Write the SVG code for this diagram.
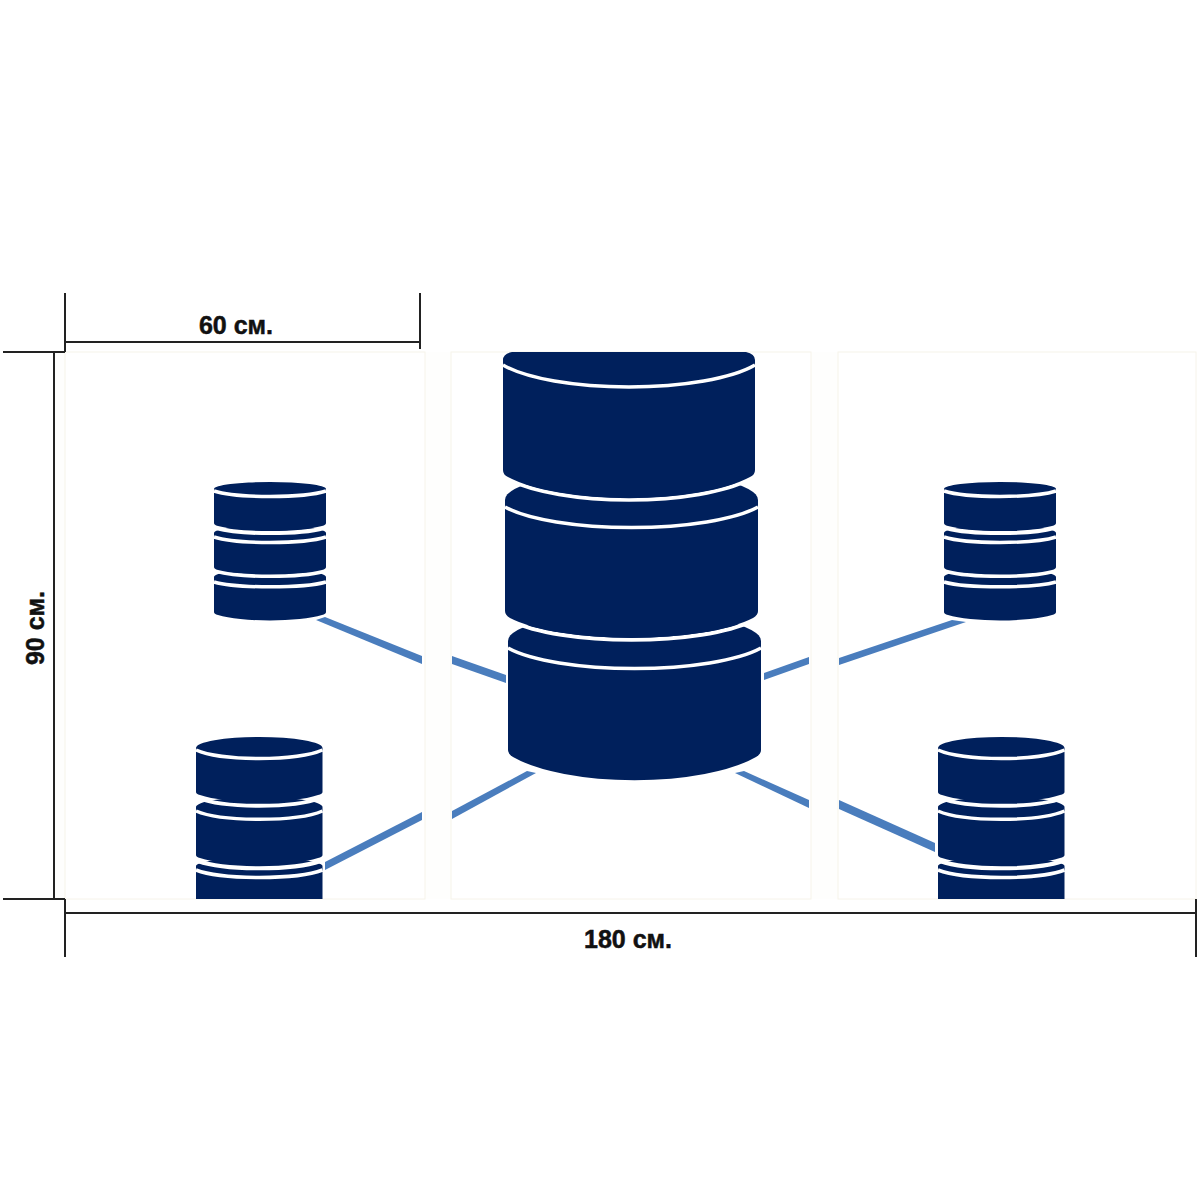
<svg xmlns="http://www.w3.org/2000/svg" width="1200" height="1200" viewBox="0 0 1200 1200">
<style>
.d{fill:#00205c}
.w{fill:none;stroke:#fff;stroke-width:3.500}
.b{fill:none;stroke:#fff;stroke-width:4}
.c{fill:#4a7dbd}
.p{fill:#fff;stroke:#f6f3ea;stroke-width:1}
.dim{stroke:#222;stroke-width:2;fill:none}
.t{font-family:"Liberation Sans",Arial,sans-serif;font-weight:700;font-size:25px;fill:#111;stroke:#111;stroke-width:.5;text-anchor:middle}
</style>
<defs>
<g id="small">
<path class="d" d="M214 577A56 8 0 0 1 326 577V612Q326 614 322 615A62 12 0 0 1 218 615Q214 614 214 612Z"/>
<path class="w" d="M214 582A62 8.500 0 0 0 326 582"/>
<path class="b" d="M216 571A62 10 0 0 0 324 571"/>
<path class="d" d="M214 533A56 8 0 0 1 326 533V567Q326 569 322 570A62 10 0 0 1 218 570Q214 569 214 567Z"/>
<path class="w" d="M214 537A62 9.500 0 0 0 326 537"/>
<path class="b" d="M216 528A62 10 0 0 0 324 528"/>
<path class="d" d="M214 489A56 7 0 0 1 326 489V523Q326 525 322 526A62 10 0 0 1 218 526Q214 525 214 523Z"/>
<path class="w" d="M214 491A62 9.500 0 0 0 326 491"/>
</g>
<g id="large">
<path class="d" d="M196 866A63 8 0 0 1 322.500 866V899H196Z"/>
<path class="w" d="M196 870A70 13 0 0 0 322.500 870"/>
<path class="b" d="M198 861A70 14 0 0 0 320.500 861"/>
<path class="d" d="M196 807A63 10 0 0 1 322.500 807V855Q322.500 857 318 858A70 14 0 0 1 200 858Q196 857 196 855Z"/>
<path class="w" d="M196 811A70 14.500 0 0 0 322.500 811"/>
<path class="b" d="M198 798A70 15 0 0 0 320.500 798"/>
<path class="d" d="M196 748A63 11 0 0 1 322.500 748V792Q322.500 794 318 795A70 15 0 0 1 200 795Q196 794 196 792Z"/>
<path class="w" d="M196 750A70 15 0 0 0 322.500 750"/>
</g>
</defs>
<rect width="1200" height="1200" fill="#fff"/>
<g id="panels">
<rect x="55" y="352" width="1141" height="547" fill="#fefefd"/>
<rect class="p" x="65" y="352" width="360" height="547"/>
<rect class="p" x="451" y="352" width="360" height="547"/>
<rect class="p" x="838" y="352" width="358" height="547"/>
</g>
<g id="connectors">
<polygon class="c" points="316,620 325,617 422,656 422,664"/>
<polygon class="c" points="452,656 506,675 506,683 452,664"/>
<polygon class="c" points="325,862 422,812 422,820 325,870"/>
<polygon class="c" points="452,811 527,771 536,773 452,819"/>
<polygon class="c" points="764,673 809,657 809,664 764,680"/>
<polygon class="c" points="839,658 952,620 966,622 839,665"/>
<polygon class="c" points="735,773 744,771 809,800 809,808"/>
<polygon class="c" points="839,800 935,843 935,852 839,809"/>
</g>
<g id="db-top-left"><use href="#small"/></g>
<g id="db-bottom-left"><use href="#large"/></g>
<g id="db-top-right"><use href="#small" x="730"/></g>
<g id="db-bottom-right"><use href="#large" x="742"/></g>
<g id="db-center">
<path class="d" d="M508 641A126.500 29 0 0 1 761 641V750Q761 754 756 757A140 46 0 0 1 513 757Q508 754 508 750Z"/>
<path class="w" d="M508 648A139 35 0 0 0 761 648"/>
<path class="b" d="M511 621A137 36 0 0 0 752 621"/>
<path class="d" d="M505 500A126.500 29 0 0 1 758 500V611Q758 615 753 618A137 37 0 0 1 510 618Q505 615 505 611Z"/>
<path class="w" d="M505 507A139 35 0 0 0 758 507"/>
<path class="b" d="M508 479A139 41 0 0 0 750 479"/>
<path class="d" d="M503 360Q503 354 512 352H746Q755 354 755 360V470Q755 475 750 477A139 42 0 0 1 508 477Q503 475 503 470Z"/>
<path class="w" d="M503 365A139 38 0 0 0 755 365"/>
</g>
<g id="dimensions">
<path class="dim" d="M65 293V352M420 293V349M65 342H420"/>
<path class="dim" d="M3 352H65M54 352V899M3 899H65M65 899V957M65 913H1196M1196 899V957"/>
<text class="t" x="236" y="334">60 см.</text>
<text class="t" x="628" y="948">180 см.</text>
<text class="t" transform="translate(44 628) rotate(-90)">90 см.</text>
</g>
</svg>
